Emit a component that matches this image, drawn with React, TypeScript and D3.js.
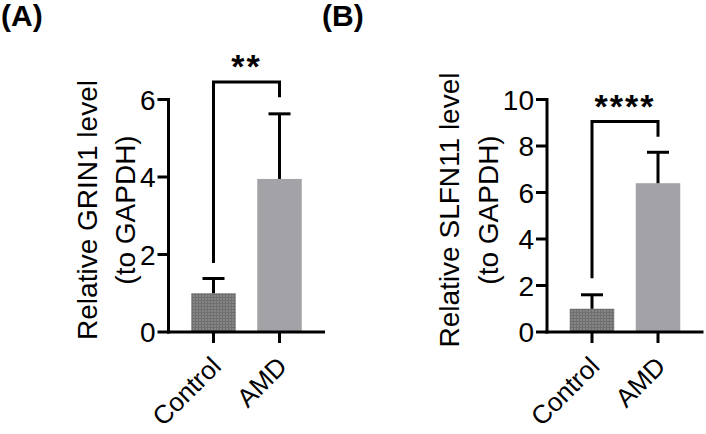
import React from "react";
import * as d3 from "d3";

const categories = ["Control", "AMD"];
const grin1Means = [1.0, 3.95];
const grin1SD = [0.38, 1.68];
const grin1Ticks = [0, 2, 4, 6];
const grin1Sig = { label: "**", top: 6.45, leftEnd: 1.78, rightEnd: 6.06 };

const slfn11Means = [1.0, 6.4];
const slfn11SD = [0.6, 1.33];
const slfn11Ticks = [0, 2, 4, 6, 8, 10];
const slfn11Sig = { label: "****", top: 9.05, leftEnd: 2.31, rightEnd: 8.4 };

const W = 706;
const H = 434;
const FONT = "'Liberation Sans', Arial, Helvetica, sans-serif";
const barFills = ["url(#ctrlPattern)", "#a3a3a7"];

type PanelProps = {
  x0: number;
  means: number[];
  sds: number[];
  ticks: number[];
  yMax: number;
  sig: { label: string; top: number; leftEnd: number; rightEnd: number };
  yLabel1: string;
  yLabel2: string;
  label1X: number;
  label2X: number;
  panelTag: string;
  tagX: number;
};

function Panel(p: PanelProps) {
  const yBottom = 332;
  const yTop = 99.5;
  const axisLen = 156.5;
  const y = d3.scaleLinear().domain([0, p.yMax]).range([yBottom, yTop]);
  const x = d3
    .scaleBand<string>()
    .domain(categories)
    .range([p.x0 + 22.75, p.x0 + 133.25])
    .paddingInner(0.326)
    .paddingOuter(0);
  const bw = x.bandwidth();
  const cx = (c: string) => (x(c) as number) + bw / 2;
  const sw = 3;
  const capHalf = 11;
  const labelCenterY = 210;
  const c0 = cx(categories[0]);
  const c1 = cx(categories[1]);
  return (
    <g>
      <text x={p.tagX} y={26} fontFamily={FONT} fontWeight="bold" fontSize={30} fill="#000">
        {p.panelTag}
      </text>
      {categories.map((c, i) => (
        <rect
          key={c}
          x={x(c)}
          y={y(p.means[i])}
          width={bw}
          height={y(0) - y(p.means[i])}
          fill={barFills[i]}
        />
      ))}
      {categories.map((c, i) => (
        <g key={"e" + c} stroke="#000" strokeWidth={sw}>
          <line x1={cx(c)} x2={cx(c)} y1={y(p.means[i])} y2={y(p.means[i] + p.sds[i])} />
          <line
            x1={cx(c) - capHalf}
            x2={cx(c) + capHalf}
            y1={y(p.means[i] + p.sds[i])}
            y2={y(p.means[i] + p.sds[i])}
          />
        </g>
      ))}
      <g stroke="#000" strokeWidth={sw} fill="none">
        <line x1={p.x0} x2={p.x0} y1={y(p.yMax) - 1.5} y2={yBottom + 1.5} />
        <line x1={p.x0 - 1.5} x2={p.x0 + axisLen} y1={yBottom} y2={yBottom} />
        {p.ticks.map((t) => (
          <line key={t} x1={p.x0 - 11} x2={p.x0} y1={y(t)} y2={y(t)} />
        ))}
        {categories.map((c) => (
          <line key={c} x1={cx(c)} x2={cx(c)} y1={yBottom} y2={yBottom + 11} />
        ))}
      </g>
      {p.ticks.map((t) => (
        <text
          key={t}
          x={p.x0 - 13}
          y={y(t)}
          dy="0.36em"
          textAnchor="end"
          fontFamily={FONT}
          fontSize={28}
          fill="#000"
        >
          {t}
        </text>
      ))}
      {categories.map((c) => (
        <text
          key={"l" + c}
          transform={`translate(${cx(c) + 9},${yBottom + 36}) rotate(-45)`}
          textAnchor="end"
          fontFamily={FONT}
          fontSize={26}
          fill="#000"
        >
          {c}
        </text>
      ))}
      <text
        transform={`translate(${p.label1X},${labelCenterY}) rotate(-90)`}
        textAnchor="middle"
        fontFamily={FONT}
        fontSize={28}
        fill="#000"
      >
        {p.yLabel1}
      </text>
      <text
        transform={`translate(${p.label2X},${labelCenterY}) rotate(-90)`}
        textAnchor="middle"
        fontFamily={FONT}
        fontSize={28}
        fill="#000"
      >
        {p.yLabel2}
      </text>
      <path
        d={`M${c0},${y(p.sig.leftEnd)}V${y(p.sig.top)}H${c1}V${y(p.sig.rightEnd)}`}
        fill="none"
        stroke="#000"
        strokeWidth={sw}
      />
      <text
        x={(c0 + c1) / 2}
        y={y(p.sig.top) - 4}
        textAnchor="middle"
        fontFamily={FONT}
        fontWeight="bold"
        fontSize={34}
        letterSpacing={2}
        fill="#000"
      >
        {p.sig.label}
      </text>
    </g>
  );
}

export default function App() {
  return (
    <svg
      width={W}
      height={H}
      style={{ position: "absolute", left: 0, top: 0, display: "block", background: "#fff" }}
    >
      <defs>
        <pattern id="ctrlPattern" width={3} height={3} patternUnits="userSpaceOnUse">
          <rect width={3} height={3} fill="#858585" />
          <rect width={3} height={1} fill="#6f6f6f" />
          <rect width={1} height={3} fill="#6f6f6f" />
        </pattern>
      </defs>
      <rect width={W} height={H} fill="#fff" />
      <Panel
        x0={168.5}
        means={grin1Means}
        sds={grin1SD}
        ticks={grin1Ticks}
        yMax={6}
        sig={grin1Sig}
        yLabel1="Relative GRIN1 level"
        yLabel2="(to GAPDH)"
        label1X={97}
        label2X={135}
        panelTag="(A)"
        tagX={1}
      />
      <Panel
        x0={547}
        means={slfn11Means}
        sds={slfn11SD}
        ticks={slfn11Ticks}
        yMax={10}
        sig={slfn11Sig}
        yLabel1="Relative SLFN11 level"
        yLabel2="(to GAPDH)"
        label1X={459}
        label2X={498}
        panelTag="(B)"
        tagX={322}
      />
    </svg>
  );
}
